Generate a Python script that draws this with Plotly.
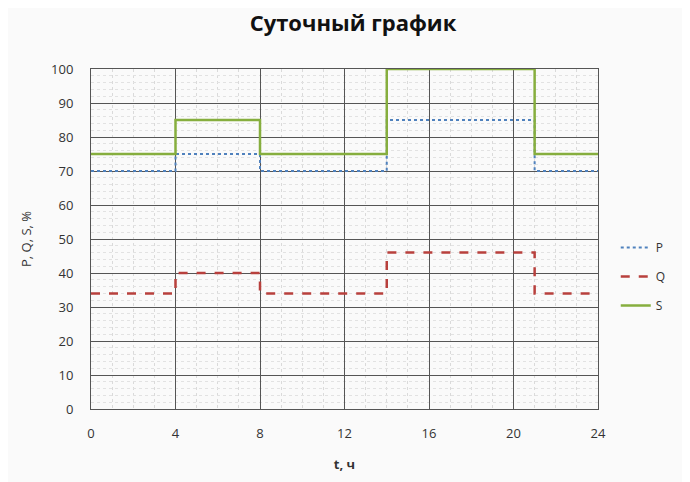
import plotly.graph_objects as go

# суточный график нагрузки
hours = [0, 4, 8, 14, 21, 24]
p_vals = [70, 75, 70, 85, 70, 70]
q_vals = [34, 40, 34, 46, 34, 34]
s_vals = [75, 85, 75, 100, 75, 75]

x_ticks = [0, 4, 8, 12, 16, 20, 24]
x_labels = ["0", "4", "8", "12", "16", "20", "24"]

fig = go.Figure()
fig.add_trace(go.Scatter(x=hours, y=p_vals, name="P", legendgroup="p", mode="lines", line_shape="hv",
                         line=dict(color="#4F81BD", width=2, dash="dot")))
fig.add_trace(go.Scatter(x=hours, y=q_vals, name="Q", legendgroup="q", mode="lines", line_shape="hv",
                         line=dict(color="#B8403D", width=2.5, dash="dash")))
fig.add_trace(go.Scatter(x=hours, y=s_vals, name="S", legendgroup="s", mode="lines", line_shape="hv",
                         line=dict(color="#86AE3E", width=2.5)))

fig.update_layout(
    width=690, height=482,
    margin=dict(l=83, r=100, t=61, b=81, autoexpand=False),
    paper_bgcolor="#FAFAFA", plot_bgcolor="#FAFAFA",
    font=dict(family="Open Sans", size=13, color="#333333"),
    title=dict(text="<b>Суточный график</b>", x=0.5, xanchor="center", y=0.968, yanchor="middle",
               font=dict(size=22, color="#111111")),
    legend=dict(x=1.035, xanchor="left", y=0.39, yanchor="middle", bgcolor="rgba(0,0,0,0)",
                font=dict(size=12), tracegroupgap=10, traceorder="grouped"),
    showlegend=True,
)
fig.update_xaxes(range=[0, 24], tickvals=x_ticks, ticktext=x_labels, showline=True,
                 linecolor="#555555", mirror=True, gridcolor="#555555", gridwidth=1,
                 zeroline=False, ticks="", ticklabelstandoff=12, automargin=False,
                 minor=dict(dtick=1, showgrid=True, gridcolor="#DADADA", griddash="dot"),
                 title=dict(text="<b>t, ч</b>", font=dict(size=13), standoff=19))
fig.update_yaxes(range=[0, 100], dtick=10, showline=True, linecolor="#555555", mirror=True,
                 gridcolor="#555555", gridwidth=1, zeroline=False, ticks="", ticklabelstandoff=14,
                 automargin=False,
                 minor=dict(dtick=2, showgrid=True, gridcolor="#E2E2E2", griddash="dot"),
                 title=dict(text="P, Q, S, %", font=dict(size=13), standoff=16))

fig.write_html("out.html")
